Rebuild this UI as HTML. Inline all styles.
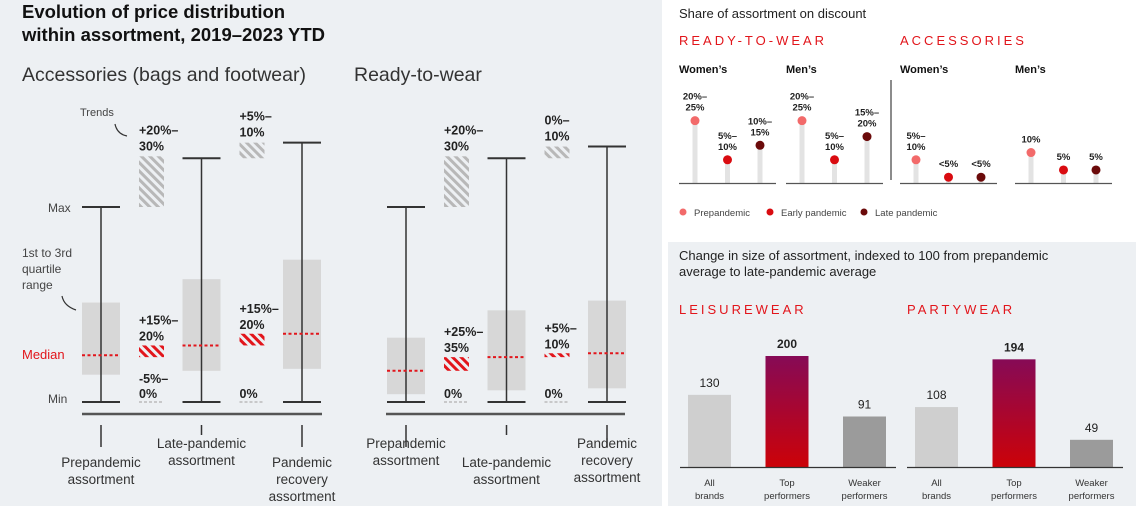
<!DOCTYPE html>
<html><head><meta charset="utf-8"><style>
html,body{margin:0;padding:0;background:#fff;}
svg{display:block;font-family:"Liberation Sans",Arial,sans-serif;}
</style></head><body>
<svg id="s" width="1136" height="506" viewBox="0 0 1136 506">
<defs>
<pattern id="hg" width="6" height="6" patternUnits="userSpaceOnUse" patternTransform="rotate(-45)"><rect width="3" height="6" fill="#b8b8b8"/></pattern>
<pattern id="hr" width="6" height="6" patternUnits="userSpaceOnUse" patternTransform="rotate(-45)"><rect width="3" height="6" fill="#e2151b"/></pattern>
<linearGradient id="grad" x1="0" y1="0" x2="0" y2="1"><stop offset="0" stop-color="#860a56"/><stop offset="1" stop-color="#cc0208"/></linearGradient>
</defs>
<rect x="0" y="0" width="662" height="506" fill="#edf0f3"/>
<rect x="668" y="242" width="468" height="264" fill="#edf0f3"/>
<g id="left">
<text x="22" y="18" font-size="18.5" font-weight="bold" fill="#111">Evolution of price distribution</text>
<text x="22" y="41" font-size="18.5" font-weight="bold" fill="#111">within assortment, 2019–2023 YTD</text>
<text x="22" y="81" font-size="19.5" fill="#333">Accessories (bags and footwear)</text>
<text x="354" y="81" font-size="19.5" fill="#333">Ready-to-wear</text>
<text x="80" y="116" font-size="11" fill="#444">Trends</text>
<path d="M115 124 q2 10 12 12" fill="none" stroke="#333" stroke-width="1.2"/>
<text x="48" y="212" font-size="12" fill="#444">Max</text>
<text x="48" y="403" font-size="12" fill="#444">Min</text>
<text x="22" y="359" font-size="13" fill="#e2151b">Median</text>
<text font-size="12" fill="#444"><tspan x="22" y="257">1st to 3rd</tspan><tspan x="22" y="273">quartile</tspan><tspan x="22" y="289">range</tspan></text>
<path d="M62 296 q2 10 14 14" fill="none" stroke="#333" stroke-width="1.2"/>
<line x1="82" y1="414" x2="322" y2="414" stroke="#555" stroke-width="2.5"/>
<line x1="386" y1="414" x2="625" y2="414" stroke="#555" stroke-width="2.5"/>
</g>
<g id="tr">
<text x="679" y="18" font-size="13" fill="#222">Share of assortment on discount</text>
<text x="679" y="45" font-size="13" fill="#e2151b" letter-spacing="3">READY-TO-WEAR</text>
<text x="900" y="45" font-size="13" fill="#e2151b" letter-spacing="3">ACCESSORIES</text>
<line x1="891" y1="80" x2="891" y2="180" stroke="#666" stroke-width="1.5"/>
</g>
<g id="br">
<text x="679" y="260" font-size="13" fill="#222">Change in size of assortment, indexed to 100 from prepandemic</text>
<text x="679" y="276" font-size="13" fill="#222">average to late-pandemic average</text>
<text x="679" y="314" font-size="13" fill="#e2151b" letter-spacing="3">LEISUREWEAR</text>
<text x="907" y="314" font-size="13" fill="#e2151b" letter-spacing="3">PARTYWEAR</text>
</g>
</svg>
<script>
// ---- Box plot data (value scale: 0 = min, 100 = prepandemic max)
const boxCategories = ["Prepandemic","Late-pandemic","Pandemic recovery"];
const accMax = [100, 125, 133];
const accQ3 = [51, 63, 73];
const accQ1 = [14, 16, 17];
const accMedian = [24, 29, 35];
const rtwMax = [100, 125, 131];
const rtwQ3 = [33, 47, 52];
const rtwQ1 = [4, 6, 7];
const rtwMedian = [16, 23, 25];
const accTrendGray = [[100, 126], [125, 133]];
const accTrendRed = [[23, 29], [29, 35]];
const rtwTrendGray = [[100, 126], [125, 131]];
const rtwTrendRed = [[16, 23], [23, 25]];
const accTrendLabels = [["+20%–","30%"],["+5%–","10%"]];
const accRedLabels = [["+15%–","20%"],["+15%–","20%"]];
const accZeroLabels = [["-5%–","0%"],["0%"]];
const rtwTrendLabels = [["+20%–","30%"],["0%–","10%"]];
const rtwRedLabels = [["+25%–","35%"],["+5%–","10%"]];
const rtwZeroLabels = [["0%"],["0%"]];
const accXLabels = [["Prepandemic","assortment"],["Late-pandemic","assortment"],["Pandemic","recovery","assortment"]];
const rtwXLabels = [["Prepandemic","assortment"],["Late-pandemic","assortment"],["Pandemic","recovery","assortment"]];

// ---- Lollipop data (percent share on discount)
const lolliGroups = ["RTW women","RTW men","Accessories women","Accessories men"];
const lolliPre = [21.5, 21.5, 8, 10.5];
const lolliEarly = [8, 8, 2, 4.5];
const lolliLate = [13, 16, 2, 4.5];
const lolliPreLbl = [["20%–","25%"],["20%–","25%"],["5%–","10%"],["10%"]];
const lolliEarlyLbl = [["5%–","10%"],["5%–","10%"],["<5%"],["5%"]];
const lolliLateLbl = [["10%–","15%"],["15%–","20%"],["<5%"],["5%"]];
const lolliTitles = ["Women’s","Men’s","Women’s","Men’s"];

// ---- Bar data
const barCategories = [["All","brands"],["Top","performers"],["Weaker","performers"]];
const leisureValues = [130, 200, 91];
const partyValues = [108, 194, 49];

const NS="http://www.w3.org/2000/svg";
const svg=document.getElementById('s');
function mk(tag,attrs,parent){const e=document.createElementNS(NS,tag);for(const k in attrs)e.setAttribute(k,attrs[k]);(parent||svg).appendChild(e);return e;}
function txt(lines,x,y,lh,attrs,parent){const t=mk('text',Object.assign({x:x,y:y},attrs),parent);lines.forEach((l,i)=>{const s=mk('tspan',{x:x,y:y+i*lh},t);s.textContent=l;});return t;}

// box plots
const yB=v=>402-v*1.95;
const left=document.getElementById('left');
function drawBoxPanel(x0,maxA,q3A,q1A,medA,tg,tr,tl,rl,zl,xl,prefix){
  const step=100.5;
  boxCategories.forEach((c,i)=>{
    const cx=x0+i*step;
    const g=mk('g',{},left);
    
    
    const b=mk('rect',{x:cx-19,y:yB(q3A[i]),width:38,height:yB(q1A[i])-yB(q3A[i]),fill:'#d7d7d7'},g);
    
    
    const w=mk('line',{x1:cx,y1:yB(maxA[i]),x2:cx,y2:yB(0),stroke:'#333','stroke-width':1.5},g);
    
    
    [maxA[i],0].forEach(v=>{const cap=mk('line',{x1:cx-19,y1:yB(v),x2:cx+19,y2:yB(v),stroke:'#333','stroke-width':2},g);
      
      });
    const m=mk('line',{x1:cx-19,y1:yB(medA[i]),x2:cx+19,y2:yB(medA[i]),stroke:'#e2151b','stroke-width':2,'stroke-dasharray':'3,2.5'},g);
    
    
    const tk=mk('line',{x1:cx,y1:425,x2:cx,y2:i===1?435:447,stroke:'#333','stroke-width':1.5},g);
    
    
    const ly=(prefix==='acc')?(i===1?448:467):(i===1?467:448);
    const lt=txt(xl[i],cx,ly,17,{'font-size':13.5,fill:'#333','text-anchor':'middle'},g);
    
    
  });
  for(let j=0;j<2;j++){
    const tx=x0+50+j*step-12;
    const g=mk('g',{},left);
    
    
    const r1=mk('rect',{x:tx,y:yB(tg[j][1]),width:25,height:yB(tg[j][0])-yB(tg[j][1]),fill:'url(#hg)'},g);
    
    
    const l1=txt(tl[j],tx,yB(tg[j][1])-22,16,{'font-size':12.5,'font-weight':'bold',fill:'#222'},g);
    
    
    const r2=mk('rect',{x:tx,y:yB(tr[j][1]),width:25,height:yB(tr[j][0])-yB(tr[j][1]),fill:'url(#hr)'},g);
    
    
    const l2=txt(rl[j],tx,yB(tr[j][1])-21,16,{'font-size':12.5,'font-weight':'bold',fill:'#222'},g);
    
    
    const zy=zl[j].length>1?383:398;
    const l3=txt(zl[j],tx,zy,15,{'font-size':12.5,'font-weight':'bold',fill:'#222'},g);
    
    
    const d=mk('line',{x1:tx,y1:402,x2:tx+25,y2:402,stroke:'#bbb','stroke-width':1.5,'stroke-dasharray':'3,2'},g);
    
    
  }
}
drawBoxPanel(101,accMax,accQ3,accQ1,accMedian,accTrendGray,accTrendRed,accTrendLabels,accRedLabels,accZeroLabels,accXLabels,'acc');
drawBoxPanel(406,rtwMax,rtwQ3,rtwQ1,rtwMedian,rtwTrendGray,rtwTrendRed,rtwTrendLabels,rtwRedLabels,rtwZeroLabels,rtwXLabels,'rtw');

// lollipops
const tr=document.getElementById('tr');
const yL=v=>183-v*2.9;
const groupX=[679,786,900,1015];
const colors=['#f26a6a','#d90b10','#6b0a0a'];
lolliGroups.forEach((gname,gi)=>{
  const x0=groupX[gi];
  const g=mk('g',{},tr);
  
  
  const t=mk('text',{x:x0,y:73,'font-size':11,'font-weight':'bold',fill:'#111'},g);
  t.textContent=lolliTitles[gi];
  
  
  const series=[lolliPre,lolliEarly,lolliLate];
  const labels=[lolliPreLbl,lolliEarlyLbl,lolliLateLbl];
  series.forEach((s,si)=>{
    const cx=x0+16+si*32.5;
    const st=mk('rect',{x:cx-2.5,y:yL(s[gi]),width:5,height:183-yL(s[gi]),fill:'#e3e3e3'},g);
    
    
    const c=mk('circle',{cx:cx,cy:yL(s[gi]),r:4.5,fill:colors[si]},g);
    
    
    const lb=labels[si][gi];
    const lt=txt(lb,cx,yL(s[gi])-10-(lb.length-1)*11,11,{'font-size':9.5,'font-weight':'bold',fill:'#222','text-anchor':'middle'},g);
    
    
  });
  const bl=mk('line',{x1:x0,y1:183.5,x2:x0+97,y2:183.5,stroke:'#555','stroke-width':1.2},g);
  
  
});
const legendNames=['Prepandemic','Early pandemic','Late pandemic'];
const legendX=[683,770,864];
legendNames.forEach((n,i)=>{
  const g=mk('g',{},tr);
  
  
  mk('circle',{cx:legendX[i],cy:212,r:3.5,fill:colors[i]},g);
  const t=mk('text',{x:legendX[i]+11,y:216,'font-size':9.5,fill:'#444'},g);
  t.textContent=n;
});

// bars
const br=document.getElementById('br');
const yR=v=>467-v*0.555;
const barFills=['#cfcfcf','url(#grad)','#9b9b9b'];
function drawBars(x0,vals,prefix){
  vals.forEach((v,i)=>{
    const bx=x0+8+i*77.5;
    const g=mk('g',{},br);
    
    
    mk('rect',{x:bx,y:yR(v),width:43,height:467-yR(v),fill:barFills[i]},g);
    const t=mk('text',{x:bx+21.5,y:yR(v)-8,'font-size':12,'font-weight':i===1?'bold':'normal',fill:'#222','text-anchor':'middle'},g);
    t.textContent=v;
    
    
    const c=txt(barCategories[i],bx+21.5,486,13,{'font-size':9.5,fill:'#333','text-anchor':'middle'},g);
    
    
  });
  const bl=mk('line',{x1:x0,y1:467.5,x2:x0+216,y2:467.5,stroke:'#333','stroke-width':1.2},br);
  
  
}
drawBars(680,leisureValues,'leisurewear');
drawBars(907,partyValues,'partywear');
</script>
</body></html>
